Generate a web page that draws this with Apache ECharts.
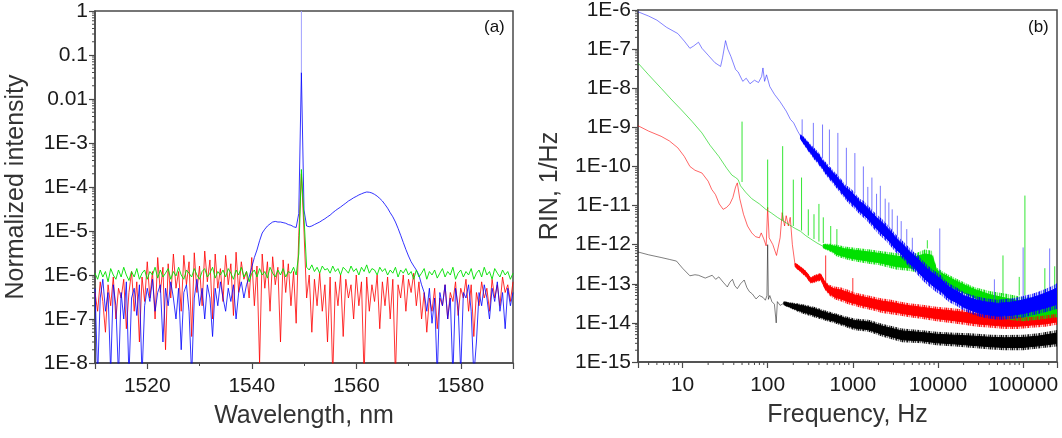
<!DOCTYPE html>
<html>
<head>
<meta charset="utf-8">
<script src="https://cdn.jsdelivr.net/npm/echarts@6/dist/echarts.min.js"></script>
<style>
  html, body { margin: 0; padding: 0; background: #fff; }
  #main { width: 1062px; height: 438px; }
</style>
</head>
<body>
<div id="main"></div>
<script>
// ---- (a) optical spectra, sampled every 0.5 nm ----
var wavelength = [
  1510,1510.5,1511,1511.5,1512,1512.5,1513,1513.5,1514,1514.5,
  1515,1515.5,1516,1516.5,1517,1517.5,1518,1518.5,1519,1519.5,
  1520,1520.5,1521,1521.5,1522,1522.5,1523,1523.5,1524,1524.5,
  1525,1525.5,1526,1526.5,1527,1527.5,1528,1528.5,1529,1529.5,
  1530,1530.5,1531,1531.5,1532,1532.5,1533,1533.5,1534,1534.5,
  1535,1535.5,1536,1536.5,1537,1537.5,1538,1538.5,1539,1539.5,
  1540,1540.5,1541,1541.5,1542,1542.5,1543,1543.5,1544,1544.5,
  1545,1545.5,1546,1546.5,1547,1547.5,1548,1548.5,1549,1549.5,
  1550,1550.5,1551,1551.5,1552,1552.5,1553,1553.5,1554,1554.5,
  1555,1555.5,1556,1556.5,1557,1557.5,1558,1558.5,1559,1559.5,
  1560,1560.5,1561,1561.5,1562,1562.5,1563,1563.5,1564,1564.5,
  1565,1565.5,1566,1566.5,1567,1567.5,1568,1568.5,1569,1569.5,
  1570,1570.5,1571,1571.5,1572,1572.5,1573,1573.5,1574,1574.5,
  1575,1575.5,1576,1576.5,1577,1577.5,1578,1578.5,1579,1579.5,
  1580,1580.5,1581,1581.5,1582,1582.5,1583,1583.5,1584,1584.5,
  1585,1585.5,1586,1586.5,1587,1587.5,1588,1588.5,1589,1589.5,1590
];
var redSpectrum = [
  4e-7,1.5e-7,7e-7,2.5e-7,5e-8,6e-7,2e-7,9e-7,1e-7,5e-7,
  3e-7,8e-7,6e-8,4e-7,1.2e-6,1.5e-7,7e-7,3e-8,9e-7,2.5e-7,
  2e-6,3e-7,1.2e-6,1e-7,2.5e-6,4e-7,1.5e-6,2e-8,1.8e-6,3e-7,
  3e-6,5e-7,1.2e-6,1.5e-7,2.8e-6,6e-7,2e-6,4e-8,3.2e-6,4e-7,
  1.6e-6,2e-7,3.5e-6,7e-7,2.2e-6,1e-7,3e-6,5e-7,1.4e-6,2.5e-7,
  2.8e-6,6e-7,1.8e-6,1.2e-7,3.3e-6,4e-7,2e-6,8e-7,1.2e-6,3e-7,
  2.5e-6,2e-7,1.6e-6,1e-8,3e-6,5e-7,2e-6,1.5e-7,2.6e-6,6e-7,
  1.5e-6,3e-8,2.2e-6,4e-7,1.8e-6,2e-7,1.2e-6,8e-8,8e-6,2e-4,
  1e-5,3e-7,1e-6,5e-8,8e-7,2e-7,1.1e-6,1.5e-7,6e-7,3e-8,
  9e-7,5e-9,7e-7,2e-7,1e-6,4e-8,8e-7,3e-7,6e-7,1e-7,
  1e-6,2e-7,7e-7,5e-9,9e-7,1.5e-7,6e-7,2.5e-7,1e-6,6e-8,
  7e-7,2e-7,9e-7,1e-7,8e-7,5e-9,6e-7,3e-7,1e-6,1.5e-7,
  8e-7,4e-7,1.1e-6,2e-7,7e-7,1e-7,4e-7,5e-8,3e-7,1.5e-7,
  5e-7,6e-8,3e-7,2e-7,6e-7,1e-7,4e-7,2.5e-7,7e-7,1.2e-7,
  5e-7,3e-7,8e-7,1.5e-7,6e-7,4e-8,4e-7,2e-7,7e-7,3e-7,
  5e-7,1.5e-7,8e-7,3e-7,6e-7,2e-7,9e-7,4e-7,6e-7,2.5e-7,7e-7
];
var blueSpectrum = [
  5e-7,5e-9,3e-7,8e-7,1.5e-7,4e-7,6e-9,6e-7,2e-7,5e-9,
  4e-7,1e-7,7e-7,5e-9,3e-7,5e-7,1.2e-7,6e-7,5e-9,2e-7,
  5e-7,2.5e-7,8e-7,1.5e-7,4e-7,6e-7,3e-8,5e-7,2e-7,7e-7,
  3e-7,1e-7,5e-7,2e-8,4e-7,6e-7,1.5e-7,5e-9,3e-7,8e-7,
  2e-7,5e-7,1e-7,6e-7,3e-7,4e-8,5e-7,2e-7,7e-7,3e-7,
  1.5e-7,5e-7,2.5e-7,6e-7,1e-7,4e-7,7e-7,3e-7,6e-7,9e-7,
  1.5e-6,2.5e-6,3.7e-6,6e-6,9e-6,1.1e-5,1.3e-5,1.45e-5,1.6e-5,1.65e-5,
  1.6e-5,1.6e-5,1.55e-5,1.5e-5,1.4e-5,1.35e-5,1.25e-5,1.2e-5,2.5e-5,0.04,
  3e-5,1.3e-5,1.25e-5,1.3e-5,1.4e-5,1.5e-5,1.6e-5,1.75e-5,1.9e-5,2.1e-5,
  2.3e-5,2.6e-5,2.9e-5,3.2e-5,3.5e-5,3.9e-5,4.3e-5,4.8e-5,5.2e-5,5.7e-5,
  6.1e-5,6.6e-5,7e-5,7.4e-5,7.7e-5,7.6e-5,7.3e-5,6.8e-5,6.2e-5,5.5e-5,
  4.8e-5,4e-5,3.3e-5,2.6e-5,2.1e-5,1.6e-5,1.15e-5,8e-6,5.5e-6,3.8e-6,
  2.7e-6,2e-6,1.6e-6,1.3e-6,1e-6,6e-7,4e-7,1.5e-7,5e-7,8e-8,
  3e-7,5e-9,4e-7,2e-7,6e-7,1e-7,3e-7,5e-9,5e-7,2e-7,
  6e-9,4e-7,3e-7,6e-7,1.5e-7,5e-9,3e-8,4e-7,2e-7,6e-7,
  3e-7,1e-7,5e-7,2.5e-7,7e-7,1.5e-7,4e-7,6e-8,5e-7,2e-7,4e-7
];
var greenSpectrum = [
  1.1e-6,8e-7,1.3e-6,9e-7,1.2e-6,7e-7,1.4e-6,1e-6,8e-7,1.3e-6,
  9e-7,1.5e-6,1e-6,7.5e-7,1.2e-6,9e-7,1.4e-6,8e-7,1.1e-6,1.3e-6,
  8e-7,1.2e-6,1e-6,1.5e-6,8.5e-7,1.3e-6,9e-7,1.1e-6,1.4e-6,8e-7,
  1.2e-6,9.5e-7,1.5e-6,1e-6,8e-7,1.3e-6,1.1e-6,9e-7,1.4e-6,1e-6,
  8e-7,1.2e-6,1.4e-6,9e-7,1.1e-6,1.5e-6,8.5e-7,1.2e-6,1e-6,1.3e-6,
  9e-7,1.4e-6,1.1e-6,8e-7,1.3e-6,1e-6,1.5e-6,9e-7,1.2e-6,7e-7,
  1.1e-6,1.3e-6,9e-7,1.4e-6,1e-6,1.2e-6,8.5e-7,1.5e-6,1.1e-6,9e-7,
  1.3e-6,1e-6,1.4e-6,9e-7,1.2e-6,1.1e-6,1.5e-6,1e-6,3e-6,2.5e-4,
  2e-5,1.5e-6,1.3e-6,1.7e-6,1.2e-6,1.5e-6,1.1e-6,1.6e-6,1.3e-6,1.4e-6,
  1.1e-6,1.6e-6,1.2e-6,1.4e-6,1e-6,1.5e-6,1.3e-6,1.1e-6,1.6e-6,1.2e-6,
  1.4e-6,1e-6,1.5e-6,1.2e-6,1.7e-6,1.1e-6,1.4e-6,1.3e-6,1e-6,1.5e-6,
  1.2e-6,1.4e-6,1e-6,1.3e-6,1.1e-6,1.5e-6,9e-7,1.3e-6,1.1e-6,1.4e-6,
  1e-6,1.2e-6,8e-7,1.3e-6,9e-7,1.1e-6,1.4e-6,8e-7,1.2e-6,1e-6,
  1.3e-6,8.5e-7,1.1e-6,1.4e-6,9e-7,1.2e-6,1e-6,1.5e-6,8e-7,1.1e-6,
  1.3e-6,9e-7,1.2e-6,1e-6,1.4e-6,8e-7,1.1e-6,1.3e-6,9e-7,1.5e-6,
  1e-6,1.2e-6,8e-7,1.4e-6,1.1e-6,9e-7,1.3e-6,1e-6,1.2e-6,8e-7,1.1e-6
];
// faint top of the blue laser line, up to 1
var bluePeak = [[1549.5, 0.04], [1549.5, 1]];

// ---- (b) RIN, [frequency Hz, RIN] ----
var blueRinLow = [
  [3,9e-7],[4,7e-7],[5,5.5e-7],[6.5,3.6e-7],[8.8,2.5e-7],[10.5,1.6e-7],[12.2,1.05e-7],
  [13.5,1.2e-7],[15.4,1.5e-7],[16.9,1.05e-7],[20,7e-8],[24,4.5e-8],[28,3.6e-8],[29.5,6e-8],
  [32,1.65e-7],[34,1e-7],[37,6.5e-8],[42,3e-8],[45,2.6e-8],[51,1.5e-8],[56,1.8e-8],
  [62,1.3e-8],[70,1.6e-8],[78,1.4e-8],[85,2e-8],[88,3.3e-8],[92,1.5e-8],[97,2.2e-8],
  [106,1.1e-8],[120,7e-9],[140,4.5e-9],[165,2.6e-9],[185,1.6e-9],[202,1.3e-9],
  [225,8e-10],[243,6e-10]
];
// noisy part: [frequency, lower edge, upper edge]
var blueRinBand = [
  [243,4.8e-10,6.8e-10],[270,3.4e-10,5.6e-10],[300,2.4e-10,4.3e-10],[351,1.5e-10,3e-10],
  [390,1.15e-10,2.4e-10],[440,8e-11,1.6e-10],[507,5.2e-11,1.13e-10],[560,4e-11,9e-11],
  [640,2.8e-11,6.5e-11],[731,1.95e-11,4.7e-11],[820,1.4e-11,3.4e-11],[930,1.05e-11,2.8e-11],
  [1057,8.1e-12,2.14e-11],[1200,6e-12,1.5e-11],[1350,4.8e-12,1.3e-11],[1527,3.7e-12,9.8e-12],
  [1700,2.8e-12,7.5e-12],[1900,2.1e-12,6e-12],[2203,1.53e-12,4.5e-12],[2450,1.25e-12,3.6e-12],
  [2800,9e-13,2.6e-12],[3185,6.4e-13,1.86e-12],[3500,5.4e-13,1.5e-12],[4000,4e-13,1.15e-12],
  [4600,2.64e-13,8.5e-13],[5200,2.2e-13,6.5e-13],[5900,1.6e-13,5.2e-13],[6640,1.2e-13,3.9e-13],
  [7500,9.5e-14,3e-13],[8500,7.5e-14,2.4e-13],[9600,6.1e-14,1.97e-13],[11000,5e-14,1.6e-13],
  [12300,4e-14,1.2e-13],[13860,3.26e-14,9.9e-14],[16600,2.7e-14,8e-14],[20000,2.07e-14,6.1e-14],
  [24000,1.75e-14,5.3e-14],[28900,1.49e-14,4.7e-14],[35000,1.35e-14,4.3e-14],[41800,1.27e-14,4.1e-14],
  [50000,1.2e-14,3.9e-14],[60300,1.22e-14,4.1e-14],[72000,1.25e-14,4.2e-14],[87100,1.32e-14,4.5e-14],
  [105000,1.4e-14,5e-14],[126000,1.55e-14,5.5e-14],[151000,1.7e-14,6.3e-14],[182000,1.88e-14,7.4e-14],
  [219000,2.1e-14,8.8e-14],[255000,2.3e-14,1.05e-13]
];
// spectral lines: [frequency, foot, top]
var blueRinSpikes = [
  [254,6e-10,1.6e-9],[344,3e-10,1.3e-9],[441,1.6e-10,1.18e-9],[531,1.1e-10,8.8e-10],
  [667,5.5e-11,7.2e-10],[840,3.3e-11,3e-10],[1057,2.1e-11,2.2e-10],[1330,1.3e-11,1e-10],
  [1500,9e-12,3e-11],[1675,7.5e-12,5.2e-11],[1900,6e-12,2e-11],[2105,4.8e-12,3.2e-11],
  [2400,3.8e-12,1.5e-11],[2650,2.8e-12,1.2e-11],[2900,2.3e-12,8e-12],[3335,1.7e-12,5.5e-12],
  [3700,1.3e-12,4e-12],[4300,1e-12,2.5e-12],[5000,7e-13,1.5e-12],[10500,1.7e-13,2.6e-12],
  [46000,4e-14,1.3e-13],[100000,4.8e-14,8.5e-13],[205000,8e-14,8e-13]
];

var greenRinLow = [
  [3,4.4e-8],[4,2.2e-8],[5.6,1e-8],[7.5,5e-9],[9.7,2.8e-9],[13,1.4e-9],[16.9,7.2e-10],
  [21,3.5e-10],[26.7,1.8e-10],[33,9e-11],[38,6e-11],[42,5.2e-11],[45,4.6e-11],[48,3.2e-11],
  [55,2.2e-11],[65,1.5e-11],[80,1.1e-11],[95,8e-12],[110,6.5e-12],[130,5e-12],[153,4e-12],
  [180,3.2e-12],[210,2.6e-12],[243,2.2e-12],[280,1.7e-12],[320,1.4e-12],[380,1.1e-12],[450,9e-13]
];
var greenRinBand = [
  [450,8e-13,1.05e-12],[550,6.5e-13,1.05e-12],[650,5e-13,1e-12],[800,4.3e-13,9e-13],
  [1000,3.8e-13,8.5e-13],[1250,3.5e-13,8e-13],[1600,3.2e-13,7.5e-13],[2000,3e-13,7e-13],
  [2600,2.6e-13,6.5e-13],[3300,2.3e-13,6e-13],[4200,2.2e-13,5.7e-13],[5500,2e-13,6e-13],
  [7000,1.8e-13,7.5e-13],[8500,1.6e-13,7e-13],[9600,1.2e-13,2.6e-13],[12600,8.5e-14,1.8e-13],
  [17000,6e-14,1.3e-13],[26000,4.1e-14,8.4e-14],[40000,2.2e-14,6.5e-14],[66000,1.2e-14,5.5e-14],
  [100000,1.1e-14,4.5e-14],[150000,1.2e-14,4.5e-14],[255000,1.4e-14,5e-14]
];
var greenRinSpikes = [
  [50,4e-11,1.4e-9],[100,8e-12,1.5e-10],[150,4.2e-12,3.3e-10],[200,3e-12,4.6e-11],
  [250,2.3e-12,5.2e-11],[300,1.7e-12,8e-12],[350,1.4e-12,6e-12],[400,1.2e-12,1.1e-11],
  [450,1.1e-12,5e-12],[550,1e-12,3e-12],[650,9e-13,2.5e-12],[7500,8e-13,1.3e-12],
  [58000,5e-14,5.3e-13],[90000,5e-14,1.5e-13],[105000,5e-14,1.8e-11],[180000,5e-14,2.5e-13],
  [235000,5e-14,2.8e-13]
];

var redRinLow = [
  [3,1.1e-9],[4,8e-10],[5.6,5.9e-10],[7,4.5e-10],[8.8,3e-10],[10.5,1.8e-10],[12.2,1e-10],
  [14,8e-11],[16.9,6.8e-11],[20,4.2e-11],[22,2.6e-11],[24.4,1.9e-11],[27,1.1e-11],[30,8e-12],
  [33,9e-12],[36,1.1e-11],[39,1.6e-11],[42,3e-11],[44,3.8e-11],[47,1.5e-11],[52,6e-12],
  [58,3e-12],[65,2e-12],[72,1.6e-12],[80,1.5e-12],[84,2e-12],[90,1.4e-12],[96,9.3e-13],
  [100,9e-12],[104,1.5e-12],[115,1e-12],[127,5.3e-13],[140,1.5e-12],[148,6.6e-12],
  [158,3e-12],[165,5.5e-12],[175,3e-12],[184,5e-12],[195,1e-12],[210,3e-13]
];
var redRinBand = [
  [210,2.6e-13,3.5e-13],[240,2e-13,2.9e-13],[280,1.5e-13,2.2e-13],[320,1e-13,1.5e-13],
  [370,1.1e-13,1.75e-13],[420,1.2e-13,1.9e-13],[470,7e-14,1.2e-13],[530,5e-14,9.5e-14],
  [610,4e-14,8.5e-14],[730,3.5e-14,8e-14],[880,3e-14,7e-14],
  [1050,2.7e-14,6e-14],[1270,2.4e-14,5.5e-14],[1530,2.2e-14,5e-14],[1830,2e-14,4.6e-14],
  [2200,1.8e-14,4.2e-14],[2650,1.7e-14,4e-14],[3200,1.6e-14,3.7e-14],[3800,1.5e-14,3.4e-14],
  [4600,1.4e-14,3.2e-14],[6600,1.25e-14,2.9e-14],[9600,1.1e-14,2.6e-14],[14000,1e-14,2.4e-14],
  [20000,9e-15,2.2e-14],[29000,8e-15,2e-14],[42000,7.5e-15,1.8e-14],[60000,7e-15,1.7e-14],
  [87000,7e-15,1.7e-14],[126000,7.5e-15,1.8e-14],[182000,8e-15,2e-14],[255000,9e-15,2.3e-14]
];
var redRinSpikes = [[480,9e-14,5.3e-13],[1000,5e-14,1.4e-13]];

var blackRinLow = [
  [3,6.5e-13],[4,5.5e-13],[5.6,4.7e-13],[7,4.2e-13],[8.5,3.8e-13],[10,2.5e-13],[12.2,1.6e-13],
  [14,1.7e-13],[15.4,1.65e-13],[18.5,1.4e-13],[20,1.5e-13],[22.3,1.65e-13],[24.5,1.3e-13],
  [26.7,1.5e-13],[30,1.1e-13],[33.6,8.3e-14],[36,1.1e-13],[38.6,1.3e-13],[41,9e-14],
  [44,7.5e-14],[48,1e-13],[53,1.25e-13],[57,8e-14],[61,6.3e-14],[66,5.5e-14],[73,4.1e-14],
  [80,5e-14],[88,4.5e-14],[94,3.8e-14],[98,5e-14],[100,1e-12],[102,4e-14],[106,5e-14],
  [112,3.5e-14],[120,3e-14],[126,1e-14],[130,3.5e-14],[140,2.8e-14],[155,3.2e-14]
];
var blackRinBand = [
  [155,2.8e-14,3.6e-14],[190,2.3e-14,3.3e-14],[243,1.8e-14,3.1e-14],[350,1.4e-14,2.6e-14],
  [500,1.1e-14,2e-14],[610,9.8e-15,1.8e-14],
  [800,8e-15,1.5e-14],[1050,6.5e-15,1.3e-14],[1530,5.9e-15,1.2e-14],[2200,4.5e-15,9.5e-15],
  [3800,3.2e-15,7.2e-15],[6600,3e-15,6.5e-15],[9600,2.7e-15,5.9e-15],[16000,2.5e-15,5.6e-15],
  [24000,2.3e-15,5.4e-15],[42000,2.1e-15,5e-15],[60000,2e-15,4.9e-15],[100000,2e-15,5e-15],
  [151000,2.2e-15,5.4e-15],[255000,2.5e-15,6.6e-15]
];

// ---- tick labels ----
var intensityTicks = [1, 0.1, 0.01, 1e-3, 1e-4, 1e-5, 1e-6, 1e-7, 1e-8];
var intensityLabels = ['1', '0.1', '0.01', '1E-3', '1E-4', '1E-5', '1E-6', '1E-7', '1E-8'];
var wavelengthTicks = [1520, 1540, 1560, 1580];
var rinTicks = [1e-6, 1e-7, 1e-8, 1e-9, 1e-10, 1e-11, 1e-12, 1e-13, 1e-14, 1e-15];
var rinLabels = ['1E-6', '1E-7', '1E-8', '1E-9', '1E-10', '1E-11', '1E-12', '1E-13', '1E-14', '1E-15'];
var freqTicks = [1, 10, 100, 1000, 10000, 100000];
var freqLabels = ['', '10', '100', '1000', '10000', '100000'];

function labelFor(ticks, labels) {
  return function (v) {
    for (var i = 0; i < ticks.length; i++) {
      if (Math.abs(Math.log10(v) - Math.log10(ticks[i])) < 1e-6) return labels[i];
    }
    return '';
  };
}

// 2..9 x each decade, kept strictly inside the axis range (decoration only)
function logMinor(decades, lo, hi) {
  var out = [];
  decades.forEach(function (d) {
    for (var k = 2; k <= 9; k++) {
      var v = k * d;
      if (v > lo * 1.0001 && v < hi / 1.0001) out.push(v);
    }
  });
  return out;
}

var font = 'Liberation Sans, Arial, sans-serif';
var axisColor = '#4a4a4a';
var textColor = '#1a1a1a';

function axisStyle(extra) {
  var base = {
    nameLocation: 'middle',
    nameTextStyle: { fontFamily: font, fontSize: 25, color: '#333' },
    axisLine: { show: true, lineStyle: { color: axisColor, width: 1.5 } },
    axisTick: { show: true, inside: false, length: 6, lineStyle: { color: axisColor, width: 1.2 } },
    minorTick: { show: false },
    axisLabel: { fontFamily: font, fontSize: 21, color: textColor },
    splitLine: { show: false },
    minorSplitLine: { show: false }
  };
  for (var k in extra) {
    if (typeof extra[k] === 'object' && base[k]) {
      for (var j in extra[k]) base[k][j] = extra[k][j];
    } else {
      base[k] = extra[k];
    }
  }
  return base;
}

function pairs(xs, ys) {
  return xs.map(function (x, i) { return [x, ys[i]]; });
}

function lineSeries(data, color, width, opacity, z) {
  return {
    type: 'line', xAxisIndex: 1, yAxisIndex: 1, data: data, symbol: 'none',
    lineStyle: { color: color, width: width, opacity: opacity }, z: z, clip: true
  };
}

// fixed vertical hairline texture, so the noise bands look like dense traces
var hairAlpha = [0.95, 0.3, 0.75, 0.15, 0.6, 0.9, 0.25, 0.5, 0.1, 0.7, 0.4];
function hairPattern(rgb) {
  var c = document.createElement('canvas');
  c.width = hairAlpha.length; c.height = 1;
  var ctx = c.getContext('2d');
  hairAlpha.forEach(function (a, i) {
    ctx.fillStyle = 'rgba(' + rgb + ',' + a + ')';
    ctx.fillRect(i, 0, 1, 1);
  });
  return { image: c, repeat: 'repeat' };
}

// band of noise: hairline outer envelope plus a solid core
function bandSeries(band, rgb, z) {
  var color = 'rgb(' + rgb + ')';
  var pattern = hairPattern(rgb);
  return {
    type: 'custom', xAxisIndex: 1, yAxisIndex: 1, clip: true, z: z,
    data: band,
    encode: { x: 0, y: [1, 2] },
    renderItem: function (params, api) {
      if (params.dataIndex !== 0) return null;
      var up = [], dn = [], cup = [], cdn = [];
      band.forEach(function (d) {
        up.push(api.coord([d[0], d[2]]));
        dn.unshift(api.coord([d[0], d[1]]));
        cup.push(api.coord([d[0], Math.pow(d[1], 0.18) * Math.pow(d[2], 0.82)]));
        cdn.unshift(api.coord([d[0], Math.pow(d[1], 0.82) * Math.pow(d[2], 0.18)]));
      });
      return {
        type: 'group',
        children: [
          { type: 'polygon', shape: { points: up.concat(dn) },
            style: { fill: pattern, stroke: null } },
          { type: 'polygon', shape: { points: cup.concat(cdn) },
            style: { fill: color, stroke: color, lineWidth: 1, opacity: 1 } }
        ]
      };
    }
  };
}

function spikeSeries(spikes, color, opacity, z) {
  return {
    type: 'custom', xAxisIndex: 1, yAxisIndex: 1, clip: true, z: z,
    data: spikes,
    encode: { x: 0, y: [1, 2] },
    renderItem: function (params, api) {
      var p0 = api.coord([api.value(0), api.value(1)]);
      var p1 = api.coord([api.value(0), api.value(2)]);
      return {
        type: 'line',
        shape: { x1: p0[0], y1: p0[1], x2: p1[0], y2: p1[1] },
        style: { stroke: color, lineWidth: 1, opacity: opacity }
      };
    }
  };
}

// short outward minor ticks on a log axis, placed through the axis scale
function minorTickSeries(xi, yi, points, dx, dy) {
  return {
    type: 'custom', xAxisIndex: xi, yAxisIndex: yi, clip: false, z: 20, silent: true,
    data: points,
    encode: { x: 0, y: 1 },
    renderItem: function (params, api) {
      var p = api.coord([api.value(0), api.value(1)]);
      return {
        type: 'line',
        shape: { x1: p[0], y1: p[1], x2: p[0] + dx, y2: p[1] + dy },
        style: { stroke: axisColor, lineWidth: 1 }
      };
    }
  };
}

var yMinorA = logMinor(intensityTicks, 1e-8, 1).map(function (v) { return [1510, v]; });
var yMinorB = logMinor(rinTicks, 1e-15, 1e-6).map(function (v) { return [3, v]; });
var xMinorB = logMinor(freqTicks, 3, 250000).map(function (v) { return [v, 1e-15]; });

var chart = echarts.init(document.getElementById('main'));

var option = {
  animation: false,
  backgroundColor: '#fff',
  grid: [
    { left: 95, top: 11, width: 418, height: 352, containLabel: false, outerBoundsMode: 'none',
      show: true, borderColor: axisColor, borderWidth: 1.5, backgroundColor: 'transparent' },
    { left: 638, top: 10, width: 419, height: 352, containLabel: false, outerBoundsMode: 'none',
      show: true, borderColor: axisColor, borderWidth: 1.5, backgroundColor: 'transparent' }
  ],
  xAxis: [
    axisStyle({
      gridIndex: 0, type: 'value', min: 1510, max: 1590, splitNumber: 4,
      name: 'Wavelength, nm', nameGap: 41,
      minorTick: { show: true, splitNumber: 2, length: 3, lineStyle: { color: axisColor, width: 1 } },
      axisLabel: { margin: 13, formatter: function (v) { return wavelengthTicks.indexOf(v) >= 0 ? String(v) : ''; } }
    }),
    axisStyle({
      gridIndex: 1, type: 'log', logBase: 10, min: 3, max: 250000,
      name: 'Frequency, Hz', nameGap: 41,
      axisLabel: { margin: 13, formatter: labelFor(freqTicks, freqLabels) }
    })
  ],
  yAxis: [
    axisStyle({
      gridIndex: 0, type: 'log', logBase: 10, min: 1e-8, max: 1,
      name: 'Normalized intensity', nameGap: 66,
      axisLabel: { margin: 7, formatter: labelFor(intensityTicks, intensityLabels) }
    }),
    axisStyle({
      gridIndex: 1, type: 'log', logBase: 10, min: 1e-15, max: 1e-6,
      name: 'RIN, 1/Hz', nameGap: 75,
      axisLabel: { margin: 7, formatter: labelFor(rinTicks, rinLabels) }
    })
  ],
  graphic: [
    { type: 'text', left: 484, top: 19, style: { text: '(a)', fill: '#111', font: '17px Liberation Sans, Arial, sans-serif' } },
    { type: 'text', left: 1028, top: 19, style: { text: '(b)', fill: '#111', font: '17px Liberation Sans, Arial, sans-serif' } }
  ],
  series: [
    // (a)
    { type: 'line', xAxisIndex: 0, yAxisIndex: 0, data: pairs(wavelength, redSpectrum), symbol: 'none',
      lineStyle: { color: '#ff0000', width: 1, opacity: 0.8 }, z: 2 },
    { type: 'line', xAxisIndex: 0, yAxisIndex: 0, data: pairs(wavelength, blueSpectrum), symbol: 'none',
      lineStyle: { color: '#0000ff', width: 1, opacity: 0.8 }, z: 3 },
    { type: 'line', xAxisIndex: 0, yAxisIndex: 0, data: pairs(wavelength, greenSpectrum), symbol: 'none',
      lineStyle: { color: '#00e000', width: 1, opacity: 0.9 }, z: 4 },
    { type: 'line', xAxisIndex: 0, yAxisIndex: 0, data: bluePeak, symbol: 'none',
      lineStyle: { color: '#a0a0ff', width: 1 }, z: 3 },
    // (b) black
    lineSeries(blackRinLow, '#000000', 1, 0.5, 2),
    bandSeries(blackRinBand, '0,0,0', 2),
    // red
    lineSeries(redRinLow, '#ff0000', 1, 0.6, 3),
    bandSeries(redRinBand, '255,0,0', 3),
    spikeSeries(redRinSpikes, '#ff0000', 0.8, 3),
    // green
    lineSeries(greenRinLow, '#00d000', 1, 0.6, 4),
    bandSeries(greenRinBand, '0,224,0', 4),
    spikeSeries(greenRinSpikes, '#00e000', 0.8, 4),
    // blue
    lineSeries(blueRinLow, '#3030ff', 1, 0.6, 5),
    bandSeries(blueRinBand, '0,0,255', 5),
    spikeSeries(blueRinSpikes, '#4040ff', 0.7, 5),
    // minor ticks
    minorTickSeries(0, 0, yMinorA, -3, 0),
    minorTickSeries(1, 1, yMinorB, -3, 0),
    minorTickSeries(1, 1, xMinorB, 0, 3)
  ]
};

chart.setOption(option);
</script>
</body>
</html>
